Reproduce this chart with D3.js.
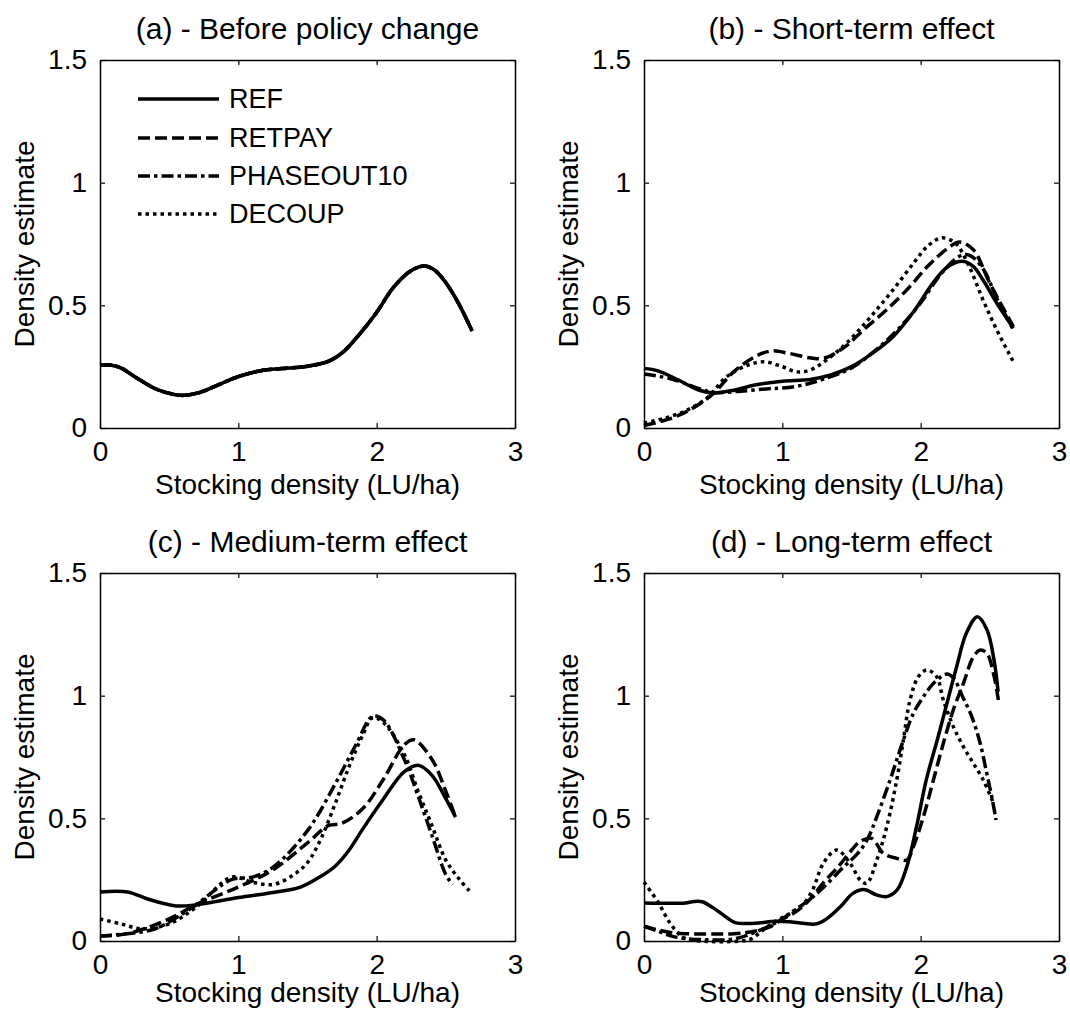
<!DOCTYPE html>
<html><head><meta charset="utf-8">
<script src="https://cdn.jsdelivr.net/npm/d3@7"></script>
<style>body{margin:0;background:#fff} svg{display:block} text{font-family:"Liberation Sans", Arial, sans-serif; fill:#000}</style>
</head><body><svg id="c" width="1070" height="1010"></svg>
<script>
// ---------- data ----------
const seriesNames = ["REF", "RETPAY", "PHASEOUT10", "DECOUP"];
const panelTitles = ["(a) - Before policy change", "(b) - Short-term effect", "(c) - Medium-term effect", "(d) - Long-term effect"];
const xTicks = [0, 1, 2, 3];
const xTickLabels = ["0", "1", "2", "3"];
const yTicks = [0, 0.5, 1, 1.5];
const yTickLabels = ["0", "0.5", "1", "1.5"];
const xLabel = "Stocking density (LU/ha)";
const yLabel = "Density estimate";

// (a) before policy change: all scenarios identical
const a_ALL = [[0,0.256],[0.08,0.256],[0.15,0.245],[0.265,0.204],[0.389,0.163],[0.488,0.143],[0.587,0.133],[0.71,0.143],[0.859,0.177],[1.007,0.211],[1.18,0.235],[1.379,0.245],[1.5,0.252],[1.65,0.272],[1.75,0.306],[1.874,0.381],[1.998,0.47],[2.12,0.572],[2.245,0.64],[2.344,0.66],[2.418,0.644],[2.49,0.6],[2.59,0.51],[2.69,0.395]];

// (b) short-term
const b_REF = [[0,0.243],[0.1,0.233],[0.25,0.195],[0.4,0.154],[0.5,0.143],[0.65,0.154],[0.8,0.175],[1.0,0.191],[1.2,0.198],[1.35,0.216],[1.5,0.25],[1.65,0.304],[1.8,0.372],[1.95,0.475],[2.1,0.6],[2.2,0.659],[2.3,0.68],[2.38,0.659],[2.45,0.604],[2.55,0.509],[2.67,0.407]];
const b_RETPAY = [[0,0.01],[0.2,0.04],[0.35,0.08],[0.5,0.14],[0.65,0.23],[0.8,0.29],[0.92,0.314],[1.05,0.304],[1.2,0.286],[1.3,0.284],[1.45,0.33],[1.6,0.407],[1.75,0.48],[1.9,0.563],[2.05,0.659],[2.2,0.734],[2.28,0.758],[2.38,0.727],[2.5,0.59],[2.67,0.413]];
const b_PHASEOUT10 = [[0,0.22],[0.2,0.2],[0.4,0.16],[0.5,0.145],[0.7,0.15],[0.9,0.16],[1.0,0.163],[1.15,0.175],[1.3,0.2],[1.5,0.245],[1.7,0.33],[1.85,0.41],[2.0,0.51],[2.15,0.63],[2.28,0.7],[2.35,0.705],[2.45,0.65],[2.55,0.53],[2.67,0.4]];
const b_DECOUP = [[0,0.02],[0.15,0.04],[0.3,0.07],[0.45,0.12],[0.6,0.21],[0.75,0.256],[0.87,0.27],[1.0,0.25],[1.1,0.229],[1.2,0.236],[1.35,0.29],[1.5,0.366],[1.65,0.461],[1.8,0.563],[1.95,0.673],[2.05,0.741],[2.15,0.775],[2.25,0.754],[2.35,0.659],[2.45,0.523],[2.55,0.4],[2.67,0.27]];

// (c) medium-term
const c_REF = [[0,0.2],[0.2,0.2],[0.35,0.17],[0.55,0.143],[0.7,0.148],[1.0,0.177],[1.25,0.198],[1.45,0.22],[1.6,0.265],[1.7,0.305],[1.8,0.37],[1.9,0.457],[2.05,0.58],[2.2,0.69],[2.3,0.716],[2.4,0.675],[2.5,0.58],[2.57,0.505]];
const c_RETPAY = [[0,0.02],[0.2,0.03],[0.5,0.09],[0.7,0.15],[1.0,0.22],[1.25,0.29],[1.5,0.4],[1.65,0.47],[1.75,0.48],[1.9,0.54],[2.05,0.66],[2.2,0.8],[2.27,0.82],[2.4,0.74],[2.5,0.61],[2.57,0.505]];
const c_PHASEOUT10 = [[0,0.02],[0.2,0.03],[0.4,0.05],[0.65,0.13],[0.95,0.25],[1.1,0.26],[1.25,0.3],[1.5,0.45],[1.7,0.64],[1.85,0.8],[1.97,0.915],[2.05,0.9],[2.2,0.74],[2.3,0.59],[2.4,0.43],[2.5,0.27],[2.55,0.23]];
const c_DECOUP = [[0,0.09],[0.15,0.07],[0.3,0.05],[0.5,0.07],[0.7,0.14],[0.95,0.26],[1.1,0.24],[1.25,0.23],[1.4,0.27],[1.5,0.32],[1.6,0.42],[1.7,0.56],[1.8,0.71],[1.9,0.84],[1.97,0.91],[2.05,0.89],[2.2,0.76],[2.3,0.61],[2.4,0.47],[2.5,0.33],[2.6,0.25],[2.67,0.205]];

// (d) long-term
const d_REF = [[0,0.155],[0.3,0.155],[0.35,0.16],[0.42,0.16],[0.5,0.135],[0.6,0.095],[0.66,0.075],[0.8,0.072],[0.95,0.08],[1.05,0.078],[1.15,0.072],[1.25,0.07],[1.32,0.09],[1.42,0.14],[1.51,0.194],[1.59,0.21],[1.68,0.188],[1.755,0.181],[1.83,0.208],[1.9,0.303],[1.97,0.466],[2.04,0.656],[2.12,0.819],[2.19,0.969],[2.26,1.118],[2.33,1.254],[2.41,1.322],[2.48,1.268],[2.53,1.146],[2.56,1.016]];
const d_RETPAY = [[0,0.06],[0.1,0.045],[0.2,0.034],[0.3,0.03],[0.65,0.03],[0.8,0.04],[0.9,0.055],[1.0,0.089],[1.1,0.12],[1.2,0.17],[1.3,0.24],[1.4,0.3],[1.5,0.37],[1.56,0.405],[1.646,0.418],[1.73,0.357],[1.827,0.337],[1.9,0.33],[1.947,0.384],[2.02,0.507],[2.092,0.656],[2.164,0.806],[2.236,0.942],[2.309,1.05],[2.381,1.159],[2.43,1.186],[2.478,1.173],[2.526,1.091],[2.562,0.982]];
const d_PHASEOUT10 = [[0,0.06],[0.1,0.04],[0.2,0.02],[0.3,0.01],[0.45,0.005],[0.6,0.005],[0.7,0.015],[0.8,0.035],[0.9,0.06],[1.0,0.09],[1.056,0.113],[1.2,0.17],[1.3,0.22],[1.44,0.3],[1.55,0.36],[1.62,0.42],[1.683,0.507],[1.779,0.656],[1.851,0.779],[1.947,0.928],[2.02,0.996],[2.092,1.05],[2.189,1.088],[2.24,1.07],[2.3,1.0],[2.37,0.914],[2.43,0.806],[2.478,0.683],[2.514,0.588],[2.545,0.493]];
const d_DECOUP = [[0,0.24],[0.1,0.16],[0.18,0.08],[0.25,0.03],[0.3,0.01],[0.4,0.0],[0.7,0.0],[0.78,0.01],[0.85,0.04],[0.95,0.08],[1.05,0.11],[1.15,0.15],[1.22,0.21],[1.297,0.317],[1.393,0.371],[1.49,0.317],[1.562,0.249],[1.61,0.235],[1.683,0.33],[1.755,0.466],[1.827,0.656],[1.875,0.819],[1.923,0.982],[1.983,1.077],[2.044,1.105],[2.116,1.077],[2.164,0.982],[2.236,0.874],[2.309,0.792],[2.381,0.724],[2.453,0.656],[2.52,0.57]];

// ---------- layout / style ----------
const W = 415, H = 368;
const panels = [
  {title: panelTitles[0], left: 100, top: 60,  data: [a_ALL, a_ALL, a_ALL, a_ALL], legend: true, xlabY: 66},
  {title: panelTitles[1], left: 644, top: 60,  data: [b_REF, b_RETPAY, b_PHASEOUT10, b_DECOUP], xlabY: 66},
  {title: panelTitles[2], left: 100, top: 573, data: [c_REF, c_RETPAY, c_PHASEOUT10, c_DECOUP], xlabY: 61},
  {title: panelTitles[3], left: 644, top: 573, data: [d_REF, d_RETPAY, d_PHASEOUT10, d_DECOUP], xlabY: 61}
];
const dashes = {REF: null, RETPAY: "12,5", PHASEOUT10: "12,4,3.5,4", DECOUP: "3.5,4"};
const LW = 3.5;

const svg = d3.select("#c");
svg.append("rect").attr("width", 1070).attr("height", 1010).attr("fill", "#fff");

panels.forEach(p => {
  const g = svg.append("g").attr("transform", `translate(${p.left},${p.top})`);
  const x = d3.scaleLinear().domain([0, 3]).range([0, W]);
  const y = d3.scaleLinear().domain([0, 1.5]).range([H, 0]);

  // curves
  const line = d3.line().x(d => x(d[0])).y(d => y(d[1])).curve(d3.curveCatmullRom.alpha(0.5));
  seriesNames.forEach((name, i) => {
    g.append("path").attr("d", line(p.data[i]))
      .attr("fill", "none").attr("stroke", "#000").attr("stroke-width", LW)
      .attr("stroke-linejoin", "round")
      .attr("stroke-dasharray", dashes[name]);
  });

  // axes (ticks inward)
  const tickLen = 5;
  const xb = g.append("g").attr("transform", `translate(0,${H})`)
    .call(d3.axisBottom(x).tickValues(xTicks).tickFormat((d, i) => xTickLabels[i]).tickSizeInner(-tickLen).tickSizeOuter(0).tickPadding(13));
  const xt = g.append("g")
    .call(d3.axisTop(x).tickValues(xTicks).tickFormat("").tickSizeInner(-tickLen).tickSizeOuter(0));
  const yl = g.append("g")
    .call(d3.axisLeft(y).tickValues(yTicks).tickFormat((d, i) => yTickLabels[i]).tickSizeInner(-tickLen).tickSizeOuter(0).tickPadding(13));
  const yr = g.append("g").attr("transform", `translate(${W},0)`)
    .call(d3.axisRight(y).tickValues(yTicks).tickFormat("").tickSizeInner(-tickLen).tickSizeOuter(0));
  [xb, xt, yl, yr].forEach(a => {
    a.select(".domain").attr("stroke", "#000").attr("stroke-width", 1.5);
    a.selectAll(".tick line").attr("stroke", "#000").attr("stroke-width", 1.2);
    a.selectAll("text").attr("font-size", 28).attr("font-family", "Liberation Sans, Arial, sans-serif").attr("fill", "#000");
  });
  xb.selectAll(".tick text").attr("dy", "0.71em");

  // title
  g.append("text").attr("x", W / 2).attr("y", -21).attr("text-anchor", "middle")
    .attr("font-size", 30).text(p.title);
  // x label
  g.append("text").attr("x", W / 2).attr("y", H + p.xlabY).attr("text-anchor", "middle")
    .attr("font-size", 28).text(xLabel);
  // y label
  g.append("text").attr("transform", `translate(-66,${H / 2}) rotate(-90)`).attr("text-anchor", "middle")
    .attr("font-size", 28).text(yLabel);

  if (p.legend) {
    const rowsY = [39, 78, 116, 154];
    seriesNames.forEach((name, i) => {
      g.append("line").attr("x1", 38).attr("x2", 119).attr("y1", rowsY[i]).attr("y2", rowsY[i])
        .attr("stroke", "#000").attr("stroke-width", LW).attr("stroke-dasharray", dashes[name]);
      g.append("text").attr("x", 129).attr("y", rowsY[i]).attr("dy", "0.35em")
        .attr("font-size", 27).text(name);
    });
  }
});
</script>
</body></html>
